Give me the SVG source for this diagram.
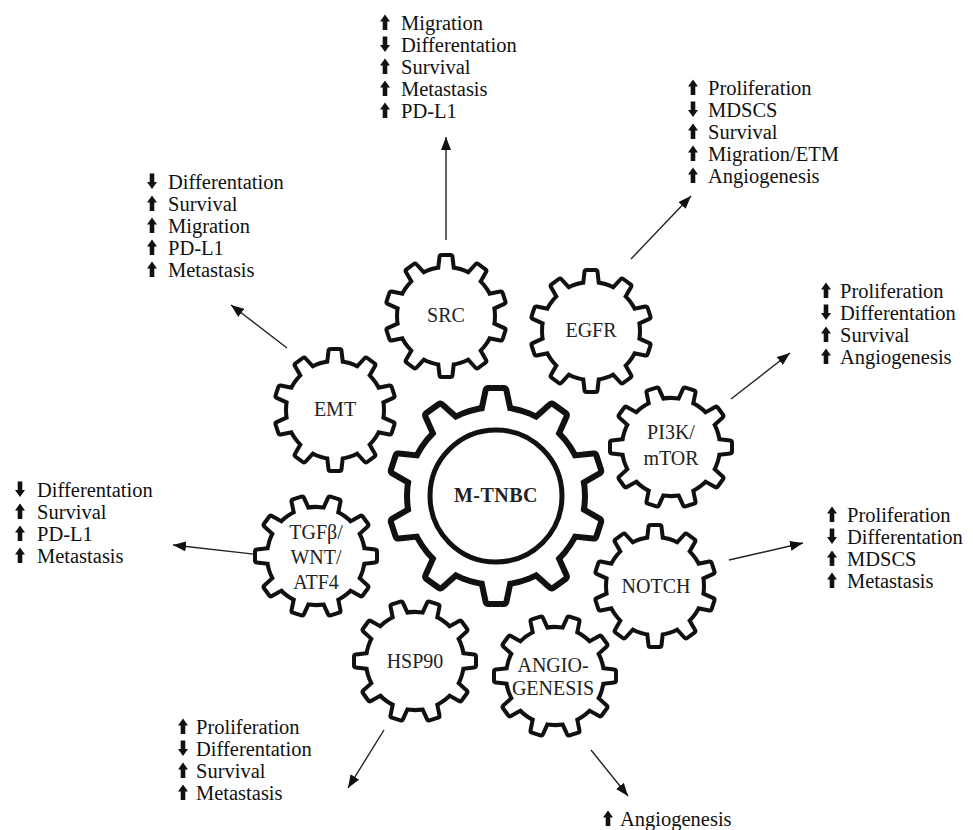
<svg xmlns="http://www.w3.org/2000/svg" width="973" height="830" viewBox="0 0 973 830">
<style>
.bo{fill:#111;stroke:#111;stroke-linejoin:round}
.bi{fill:#fff;stroke:none}
.lbl{font-family:'Liberation Serif','Times New Roman',serif;font-size:20px;fill:#222;text-anchor:middle}
.lst{font-family:'Liberation Serif','Times New Roman',serif;font-size:20.5px;fill:#111}
.cn{stroke:#222;stroke-width:1.4;fill:none;marker-end:url(#ah)}
.ic{fill:#111}
</style>
<defs>
<path id="ts" d="M-6.2,-44 L-4.5,-59 L4.5,-59 L6.2,-44 Z"/>
<g id="gs"><circle r="47"/><use href="#ts"/><use href="#ts" transform="rotate(36)"/><use href="#ts" transform="rotate(72)"/><use href="#ts" transform="rotate(108)"/><use href="#ts" transform="rotate(144)"/><use href="#ts" transform="rotate(180)"/><use href="#ts" transform="rotate(216)"/><use href="#ts" transform="rotate(252)"/><use href="#ts" transform="rotate(288)"/><use href="#ts" transform="rotate(324)"/></g>
<path id="tb" d="M-12.8,-80 L-7.5,-105 L7.5,-105 L12.8,-80 Z"/>
<g id="gb"><circle r="86"/><use href="#tb"/><use href="#tb" transform="rotate(36)"/><use href="#tb" transform="rotate(72)"/><use href="#tb" transform="rotate(108)"/><use href="#tb" transform="rotate(144)"/><use href="#tb" transform="rotate(180)"/><use href="#tb" transform="rotate(216)"/><use href="#tb" transform="rotate(252)"/><use href="#tb" transform="rotate(288)"/><use href="#tb" transform="rotate(324)"/></g>
<path id="up" d="M0,-15.5 L5,-8.5 L2.3,-8.5 L2.3,0 L-2.3,0 L-2.3,-8.5 L-5,-8.5 Z"/>
<path id="dn" d="M0,0 L5,-7 L2.3,-7 L2.3,-15.5 L-2.3,-15.5 L-2.3,-7 L-5,-7 Z"/>
<marker id="ah" markerWidth="13" markerHeight="10" refX="13" refY="5" orient="auto" markerUnits="userSpaceOnUse"><path d="M0,0 L13,5 L0,10 Z" fill="#111"/></marker>
</defs>
<rect width="973" height="830" fill="#fff"/>

<g id="connectors">
<line class="cn" x1="446" y1="240" x2="446" y2="137"/>
<line class="cn" x1="631" y1="259" x2="691" y2="196"/>
<line class="cn" x1="731" y1="399" x2="790" y2="353"/>
<line class="cn" x1="729" y1="560" x2="803" y2="543"/>
<line class="cn" x1="591" y1="750" x2="628" y2="796"/>
<line class="cn" x1="384" y1="730" x2="348" y2="788"/>
<line class="cn" x1="270" y1="556" x2="173" y2="545"/>
<line class="cn" x1="287" y1="348" x2="231" y2="305"/>
</g>

<g id="node-mtnbc">
<use href="#gb" class="bo" stroke-width="12" transform="translate(496,496)"/>
<use href="#gb" class="bi" transform="translate(496,496)"/>
<circle cx="496" cy="496" r="66" fill="none" stroke="#111" stroke-width="5"/>
<text class="lbl" x="496" y="502" font-size="26" font-weight="bold" letter-spacing="0.5" font-family="'Liberation Serif', serif">M-TNBC</text>
</g>
<g id="node-src" font-family="'Liberation Serif', serif">
<use href="#gs" class="bo" stroke-width="8" transform="translate(446,316)"/>
<use href="#gs" class="bi" transform="translate(446,316)"/>
<text class="lbl" x="446" y="322">SRC</text>
</g>
<g id="node-egfr" font-family="'Liberation Serif', serif">
<use href="#gs" class="bo" stroke-width="8" transform="translate(591,331)"/>
<use href="#gs" class="bi" transform="translate(591,331)"/>
<text class="lbl" x="591" y="337">EGFR</text>
</g>
<g id="node-emt" font-family="'Liberation Serif', serif">
<use href="#gs" class="bo" stroke-width="8" transform="translate(335,410)"/>
<use href="#gs" class="bi" transform="translate(335,410)"/>
<text class="lbl" x="335" y="416">EMT</text>
</g>
<g id="node-pi3k" font-family="'Liberation Serif', serif">
<use href="#gs" class="bo" stroke-width="8" transform="translate(671,447) rotate(18)"/>
<use href="#gs" class="bi" transform="translate(671,447) rotate(18)"/>
<text class="lbl" x="671" y="439">PI3K/</text>
<text class="lbl" x="671" y="465">mTOR</text>
</g>
<g id="node-notch" font-family="'Liberation Serif', serif">
<use href="#gs" class="bo" stroke-width="8" transform="translate(655,586)"/>
<use href="#gs" class="bi" transform="translate(655,586)"/>
<text class="lbl" x="656" y="593">NOTCH</text>
</g>
<g id="node-tgf" font-family="'Liberation Serif', serif">
<use href="#gs" class="bo" stroke-width="8" transform="translate(316,556) rotate(18)"/>
<use href="#gs" class="bi" transform="translate(316,556) rotate(18)"/>
<text class="lbl" x="316" y="539">TGFβ/</text>
<text class="lbl" x="316" y="564">WNT/</text>
<text class="lbl" x="316" y="589">ATF4</text>
</g>
<g id="node-hsp90" font-family="'Liberation Serif', serif">
<use href="#gs" class="bo" stroke-width="8" transform="translate(415,661) rotate(18)"/>
<use href="#gs" class="bi" transform="translate(415,661) rotate(18)"/>
<text class="lbl" x="415" y="668">HSP90</text>
</g>
<g id="node-angio" font-family="'Liberation Serif', serif">
<use href="#gs" class="bo" stroke-width="8" transform="translate(555,676) rotate(18)"/>
<use href="#gs" class="bi" transform="translate(555,676) rotate(18)"/>
<text class="lbl" x="553" y="672">ANGIO-</text>
<text class="lbl" x="553" y="695">GENESIS</text>
</g>

<g id="out-src" font-family="'Liberation Serif', serif">
<use href="#up" class="ic" x="385" y="30"/><text class="lst" x="401" y="30">Migration</text>
<use href="#dn" class="ic" x="385" y="52"/><text class="lst" x="401" y="52">Differentation</text>
<use href="#up" class="ic" x="385" y="74"/><text class="lst" x="401" y="74">Survival</text>
<use href="#up" class="ic" x="385" y="96"/><text class="lst" x="401" y="96">Metastasis</text>
<use href="#up" class="ic" x="385" y="118"/><text class="lst" x="401" y="118">PD-L1</text>
</g>
<g id="out-egfr" font-family="'Liberation Serif', serif">
<use href="#up" class="ic" x="693" y="95"/><text class="lst" x="708" y="95">Proliferation</text>
<use href="#dn" class="ic" x="693" y="117"/><text class="lst" x="708" y="117">MDSCS</text>
<use href="#up" class="ic" x="693" y="139"/><text class="lst" x="708" y="139">Survival</text>
<use href="#up" class="ic" x="693" y="161"/><text class="lst" x="708" y="161">Migration/ETM</text>
<use href="#up" class="ic" x="693" y="183"/><text class="lst" x="708" y="183">Angiogenesis</text>
</g>
<g id="out-pi3k" font-family="'Liberation Serif', serif">
<use href="#up" class="ic" x="826" y="298"/><text class="lst" x="840" y="298">Proliferation</text>
<use href="#dn" class="ic" x="826" y="320"/><text class="lst" x="840" y="320">Differentation</text>
<use href="#up" class="ic" x="826" y="342"/><text class="lst" x="840" y="342">Survival</text>
<use href="#up" class="ic" x="826" y="364"/><text class="lst" x="840" y="364">Angiogenesis</text>
</g>
<g id="out-notch" font-family="'Liberation Serif', serif">
<use href="#up" class="ic" x="832" y="522"/><text class="lst" x="847" y="522">Proliferation</text>
<use href="#dn" class="ic" x="832" y="544"/><text class="lst" x="847" y="544">Differentation</text>
<use href="#up" class="ic" x="832" y="566"/><text class="lst" x="847" y="566">MDSCS</text>
<use href="#up" class="ic" x="832" y="588"/><text class="lst" x="847" y="588">Metastasis</text>
</g>
<g id="out-emt" font-family="'Liberation Serif', serif">
<use href="#dn" class="ic" x="152" y="189"/><text class="lst" x="168" y="189">Differentation</text>
<use href="#up" class="ic" x="152" y="211"/><text class="lst" x="168" y="211">Survival</text>
<use href="#up" class="ic" x="152" y="233"/><text class="lst" x="168" y="233">Migration</text>
<use href="#up" class="ic" x="152" y="255"/><text class="lst" x="168" y="255">PD-L1</text>
<use href="#up" class="ic" x="152" y="277"/><text class="lst" x="168" y="277">Metastasis</text>
</g>
<g id="out-tgf" font-family="'Liberation Serif', serif">
<use href="#dn" class="ic" x="20" y="497"/><text class="lst" x="37" y="497">Differentation</text>
<use href="#up" class="ic" x="20" y="519"/><text class="lst" x="37" y="519">Survival</text>
<use href="#up" class="ic" x="20" y="541"/><text class="lst" x="37" y="541">PD-L1</text>
<use href="#up" class="ic" x="20" y="563"/><text class="lst" x="37" y="563">Metastasis</text>
</g>
<g id="out-hsp90" font-family="'Liberation Serif', serif">
<use href="#up" class="ic" x="183" y="734"/><text class="lst" x="196" y="734">Proliferation</text>
<use href="#dn" class="ic" x="183" y="756"/><text class="lst" x="196" y="756">Differentation</text>
<use href="#up" class="ic" x="183" y="778"/><text class="lst" x="196" y="778">Survival</text>
<use href="#up" class="ic" x="183" y="800"/><text class="lst" x="196" y="800">Metastasis</text>
</g>
<g id="out-angio" font-family="'Liberation Serif', serif">
<use href="#up" class="ic" x="608" y="826"/><text class="lst" x="620" y="826">Angiogenesis</text>
</g>
</svg>
